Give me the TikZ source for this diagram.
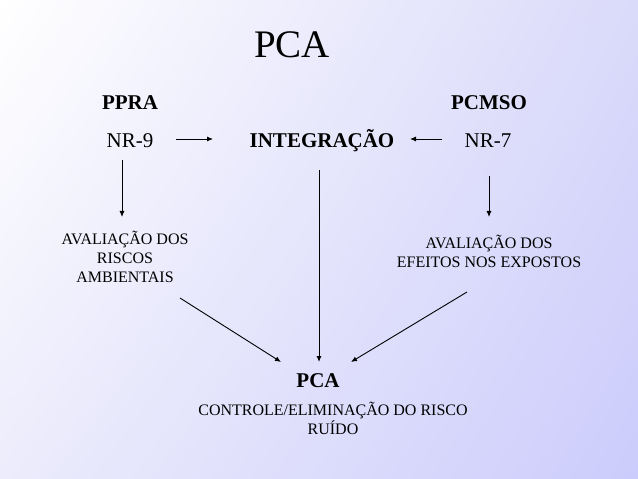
\documentclass[tikz,border=0pt]{standalone}
\usepackage{fontspec}
\setmainfont{Liberation Serif}
\usetikzlibrary{arrows.meta,shadings}
\definecolor{bgA}{RGB}{255,255,255}
\definecolor{bgB}{RGB}{218,218,250}
\definecolor{bgC}{RGB}{236,236,252}
\definecolor{bgD}{RGB}{204,204,252}
\tikzset{
  big/.style={font=\fontsize{21bp}{25bp}\selectfont, inner sep=0, anchor=base},
  bigb/.style={font=\fontsize{21bp}{25bp}\selectfont\bfseries, inner sep=0, anchor=base},
  small/.style={font=\fontsize{16bp}{18.5bp}\selectfont, align=center, inner sep=0, anchor=base},
  arr/.style={-{Latex[length=6bp,width=5bp]}, line width=0.9bp}
}
\begin{document}
\begin{tikzpicture}[x=1bp,y=-1bp]
\useasboundingbox (0,0) rectangle (638,479);
\shade[upper left=bgA, upper right=bgB, lower left=bgC, lower right=bgD] (0,0) rectangle (638,479);
\node[font=\fontsize{39bp}{45bp}\selectfont, inner sep=0, anchor=base] (title) at (292,58) {PCA};
\node[bigb] (ppra) at (130,110) {PPRA};
\node[bigb] (pcmso) at (489,110) {PCMSO};
\node[big] (nr9) at (130,148) {NR-9};
\node[bigb] (integ) at (322,148) {INTEGRAÇÃO};
\node[big] (nr7) at (488,148) {NR-7};
\node[small] (avr) at (125,282) {AVALIAÇÃO DOS\\RISCOS\\AMBIENTAIS};
\node[small] (ave) at (489,267) {AVALIAÇÃO DOS\\EFEITOS NOS EXPOSTOS};
\node[bigb] (pca) at (318,387) {PCA};
\node[small] (ctrl) at (333,434) {CONTROLE/ELIMINAÇÃO DO RISCO\\RUÍDO};
% connector end points
\coordinate (c1s) at (176,139); \coordinate (c1e) at (213,139);
\coordinate (c2s) at (442,139); \coordinate (c2e) at (410,139);
\coordinate (c3s) at (122,160); \coordinate (c3e) at (122,217);
\coordinate (c4s) at (489,176); \coordinate (c4e) at (489,217);
\coordinate (c5s) at (319,170); \coordinate (c5e) at (319,362);
\coordinate (c6s) at (180,298); \coordinate (c6e) at (281,362);
\coordinate (c7s) at (467,292); \coordinate (c7e) at (351,362);
\draw[arr] (c1s) -- (c1e);
\draw[arr] (c2s) -- (c2e);
\draw[arr] (c3s) -- (c3e);
\draw[arr] (c4s) -- (c4e);
\draw[arr] (c5s) -- (c5e);
\draw[arr] (c6s) -- (c6e);
\draw[arr] (c7s) -- (c7e);
\end{tikzpicture}
\end{document}
